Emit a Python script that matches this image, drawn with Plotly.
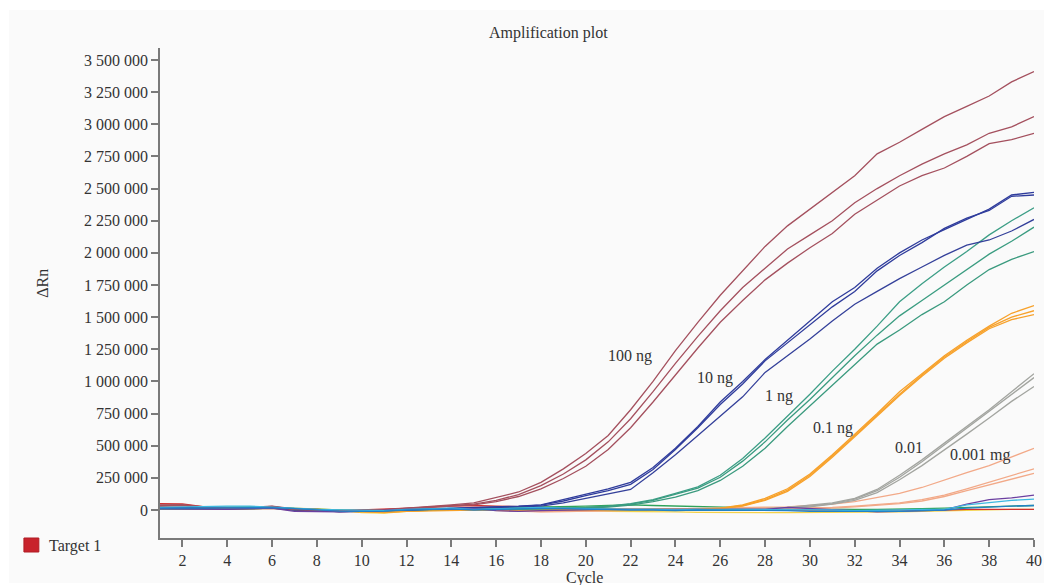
import plotly.graph_objects as go

# Cycle numbers 1..40
cycles = list(range(1, 41))

# Delta Rn per cycle, in thousands
ng100_a = [40, 42, 25, 18, 20, 30, 8, 5, -5, -3, 2, 15, 25, 40, 55, 95, 140, 215, 320, 440,
           580, 780, 1000, 1240, 1460, 1670, 1860, 2050, 2210, 2340, 2470, 2600, 2770, 2860, 2960, 3060, 3140, 3220, 3330, 3410]
ng100_b = [35, 38, 22, 15, 18, 28, 5, 2, -8, -5, 0, 12, 22, 35, 45, 75, 120, 190, 280, 390,
           530, 710, 920, 1140, 1350, 1550, 1730, 1880, 2030, 2140, 2250, 2390, 2500, 2600, 2690, 2770, 2840, 2930, 2980, 3060]
ng100_c = [30, 35, 20, 12, 15, 25, 3, 0, -10, -8, -2, 10, 20, 32, 40, 65, 105, 165, 245, 340,
           470, 640, 840, 1050, 1260, 1460, 1630, 1790, 1920, 2040, 2150, 2300, 2410, 2520, 2600, 2660, 2750, 2850, 2880, 2930]

ng10_a = [20, 18, 15, 12, 15, 25, 5, 0, -10, -8, -3, 5, 10, 15, 20, 25, 30, 40, 80, 125,
          165, 215, 330, 480, 650, 840, 1000, 1170, 1320, 1470, 1620, 1730, 1880, 2000, 2100, 2180, 2260, 2340, 2450, 2470]
ng10_b = [15, 15, 12, 10, 12, 22, 3, -2, -12, -10, -5, 3, 8, 12, 15, 20, 28, 38, 70, 112,
          150, 200, 315, 470, 640, 820, 980, 1160, 1300, 1440, 1580, 1700, 1860, 1980, 2080, 2190, 2270, 2330, 2440, 2450]
ng10_c = [10, 12, 10, 8, 10, 20, 0, -5, -12, -10, -5, 0, 5, 10, 12, 15, 20, 30, 55, 90,
          120, 160, 290, 430, 580, 730, 880, 1070, 1200, 1330, 1470, 1600, 1700, 1800, 1890, 1980, 2060, 2100, 2170, 2260]

ng1_a = [15, 12, 10, 12, 15, 20, 5, 0, -8, -5, 0, 5, 8, 10, 12, 12, 10, 12, 15, 20,
         30, 50, 80, 130, 180, 270, 400, 560, 730, 900, 1080, 1250, 1430, 1620, 1760, 1890, 2010, 2140, 2250, 2350]
ng1_b = [10, 10, 8, 10, 12, 18, 3, -2, -10, -8, -2, 3, 5, 8, 10, 10, 8, 10, 12, 18,
         28, 45, 75, 120, 170, 255, 380, 530, 700, 860, 1030, 1200, 1360, 1510, 1630, 1750, 1870, 1990, 2090, 2200]
ng1_c = [8, 8, 6, 8, 10, 15, 0, -5, -10, -8, -3, 2, 3, 5, 8, 8, 5, 8, 10, 15,
         22, 38, 65, 100, 150, 230, 340, 480, 650, 810, 970, 1130, 1290, 1400, 1520, 1620, 1750, 1870, 1950, 2010]

ng01_a = [20, 20, 15, 10, 15, 20, 10, 5, -5, -10, -15, -5, 0, 5, 5, 5, 0, 5, 5, 5,
          5, 5, 5, 0, 5, 15, 40, 90, 165, 280, 430, 590, 750, 920, 1060, 1200, 1320, 1430, 1530, 1590]
ng01_b = [18, 18, 12, 8, 12, 18, 8, 3, -8, -12, -18, -8, -2, 3, 3, 3, -2, 3, 3, 3,
          3, 3, 3, -2, 3, 12, 35, 80, 155, 270, 420, 580, 740, 900, 1050, 1190, 1310, 1420, 1500, 1550]
ng01_c = [15, 15, 10, 6, 10, 15, 6, 0, -10, -15, -20, -10, -5, 0, 0, 0, -5, 0, 0, 0,
          0, 0, 0, -5, 0, 10, 30, 75, 145, 260, 410, 570, 730, 890, 1040, 1180, 1300, 1410, 1480, 1520]

ng001_a = [12, 12, 10, 10, 12, 18, 5, 0, -8, -6, -2, 5, 8, 10, 10, 5, 0, 5, 5, 5,
           5, 5, 8, 8, 10, 10, 10, 10, 20, 35, 55, 90, 160, 270, 390, 520, 650, 780, 920, 1060]
ng001_b = [10, 10, 8, 8, 10, 15, 3, -2, -10, -8, -4, 3, 6, 8, 8, 3, -2, 3, 3, 3,
           3, 3, 5, 5, 8, 8, 8, 8, 18, 30, 50, 85, 150, 255, 375, 505, 635, 765, 900, 1030]
ng001_c = [8, 8, 6, 6, 8, 12, 0, -4, -12, -10, -6, 0, 4, 6, 6, 0, -4, 0, 0, 0,
           0, 0, 3, 3, 5, 5, 5, 5, 15, 25, 45, 75, 135, 235, 345, 465, 590, 715, 845, 960]

ng0001_a = [10, 10, 8, 8, 10, 15, 3, -2, -8, -6, -2, 3, 5, 6, 6, 0, -5, -10, -8, -5,
            0, 5, 8, 10, 12, 12, 15, 20, 25, 35, 45, 65, 95, 130, 175, 235, 290, 345, 410, 480]
ng0001_b = [8, 8, 6, 6, 8, 12, 0, -4, -10, -8, -4, 0, 3, 4, 4, -2, -8, -12, -10, -6,
            -2, 3, 5, 6, 8, 8, 10, 12, 15, 18, 20, 30, 40, 55, 80, 115, 165, 215, 270, 320]
ng0001_c = [6, 6, 4, 4, 6, 10, -2, -6, -12, -10, -6, -2, 0, 2, 2, -4, -10, -14, -12, -8,
            -4, 0, 2, 4, 5, 5, 8, 10, 12, 14, 15, 25, 35, 50, 70, 105, 150, 195, 245, 285]

# Non-amplifying wells
flat_purple = [10, 8, 5, 5, 10, 15, -10, -12, -15, -8, 0, 5, 5, 8, 10, -5, -10, -5, 0, 5,
               5, 5, 5, 10, 10, 5, 5, 5, 20, 10, 0, -10, -15, -10, -5, 0, 45, 80, 95, 115]
flat_cyan = [20, 25, 25, 30, 30, 25, 15, 5, 0, -5, -5, 5, 10, 15, 5, 10, 15, 20, 15, 10,
             10, 5, 5, 0, 5, 5, 5, 5, 5, 0, 0, -5, -5, 0, 5, 5, 40, 60, 75, 85]
flat_blue = [15, 15, 18, 20, 20, 18, 10, 0, -8, -10, -8, 0, 5, 8, 0, 5, 10, 12, 10, 5,
             5, 0, 0, -5, 0, 0, 0, 0, -5, -10, -10, -15, -15, -10, -5, 0, 15, 25, 30, 35]
flat_yellow = [20, 18, 15, 15, 18, 20, 15, 10, 0, -20, -25, -10, 0, 5, 0, -5, -5, 0, 0, -5,
               -10, -10, -15, -15, -18, -20, -20, -20, -20, -20, -20, -20, -18, -15, -10, -5, 0, 0, 5, 5]
flat_red = [50, 48, 25, 12, 10, 25, 5, 0, -5, 0, 5, 15, 20, 30, 35, 30, 25, 20, 15, 10,
            5, 5, 0, 0, 0, -5, -5, -5, 0, 0, 0, -5, -5, 0, 0, 0, 5, 5, 5, 5]
flat_green = [18, 18, 20, 22, 25, 22, 12, 5, -2, -5, 0, 5, 8, 10, 12, 15, 18, 20, 25, 30,
              35, 40, 35, 30, 25, 20, 15, 12, 10, 8, 5, 5, 5, 5, 10, 15, 20, 25, 30, 35]

series = [
    (flat_yellow, "#f4d24a"), (flat_red, "#d03030"), (flat_green, "#2fa35a"),
    (ng0001_a, "#f2a988"), (ng0001_b, "#f2a988"), (ng0001_c, "#f2a988"),
    (ng001_a, "#a3a5a0"), (ng001_b, "#a3a5a0"), (ng001_c, "#a3a5a0"),
    (ng01_a, "#f7a12a"), (ng01_b, "#f7a12a"), (ng01_c, "#f7a12a"),
    (ng1_a, "#3c9e86"), (ng1_b, "#3a9c80"), (ng1_c, "#3a9a7e"),
    (ng10_a, "#2f3c9c"), (ng10_b, "#2f3c9c"), (ng10_c, "#34409a"),
    (ng100_a, "#a4505e"), (ng100_b, "#a4505e"), (ng100_c, "#a4505e"),
    (flat_purple, "#6b3fa0"), (flat_cyan, "#3cb8e0"), (flat_blue, "#2282c6"),
]

# Dilution labels placed beside each curve family
dilution_labels = ["100 ng", "10 ng", "1 ng", "0.1 ng", "0.01", "0.001 mg"]
label_cycles = [21.97, 25.78, 28.6, 31.05, 34.4, 37.6]
label_values = [1200000, 1030000, 887000, 638000, 490000, 428000]

FONT = "Liberation Serif"
TXT = "#333333"
FS = 16

fig = go.Figure()
for vals, color in series:
    fig.add_trace(go.Scatter(
        x=cycles, y=[v * 1000 for v in vals], mode="lines",
        line=dict(color=color, width=1.3), showlegend=False, hoverinfo="skip"))

# Plot-area geometry in pixels
L, R, T, B = 160, 1040, 48, 538
W, H = 1054, 585


def px(xp):
    return (xp - L) / (R - L)


def py(yp):
    return (B - yp) / (B - T)


annotations = []
for text, cx, cy in zip(dilution_labels, label_cycles, label_values):
    annotations.append(dict(x=cx, y=cy, xref="x", yref="y", text=text, showarrow=False,
                            xanchor="center", yanchor="middle",
                            font=dict(family=FONT, size=FS, color=TXT)))


def paper_text(text, xp, yp, xanchor="center", angle=0):
    return dict(x=px(xp), y=py(yp), xref="paper", yref="paper", text=text, showarrow=False,
                xanchor=xanchor, yanchor="middle", textangle=angle,
                font=dict(family=FONT, size=FS, color=TXT))


annotations += [
    paper_text("Amplification plot", 551, 33),
    paper_text("ΔRn", 41, 283, angle=-90),
    paper_text("Cycle", 587, 578),
    paper_text("Target 1", 46, 546, xanchor="left"),
]

shapes = [
    dict(type="rect", xref="paper", yref="paper", x0=px(8), x1=px(1050), y0=py(583), y1=py(10),
         fillcolor="#fafafa", line=dict(width=0), layer="below"),
    dict(type="rect", xref="paper", yref="paper", x0=px(23), x1=px(38), y0=py(552), y1=py(538),
         fillcolor="#c8232c", line=dict(color="#b01c24", width=1)),
]

axis_common = dict(showgrid=False, zeroline=False, showline=True, linecolor="#7a7a7a",
                   linewidth=1.5, ticks="outside", tickcolor="#7a7a7a", ticklen=7, tickwidth=1.5,
                   tickfont=dict(family=FONT, size=FS, color=TXT))

fig.update_layout(
    width=W, height=H, autosize=False,
    margin=dict(l=L, r=W - R, t=T, b=H - B),
    paper_bgcolor="#ffffff", plot_bgcolor="rgba(0,0,0,0)",
    separators=". ",
    xaxis=dict(range=[1, 40], tick0=2, dtick=2, **axis_common),
    yaxis=dict(range=[-217778, 3593333], tick0=0, dtick=250000, tickformat=",d", **axis_common),
    annotations=annotations, shapes=shapes,
)

fig.write_html("out.html")
